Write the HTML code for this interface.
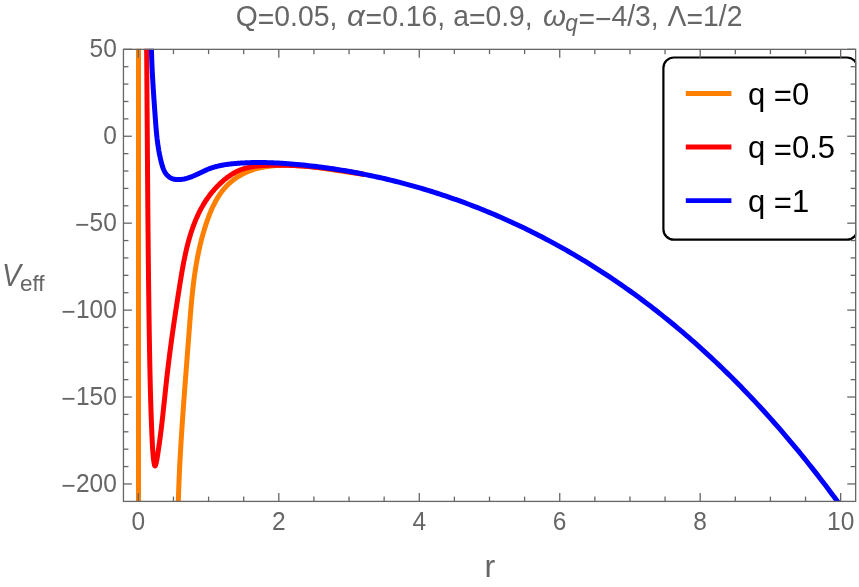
<!DOCTYPE html><html><head><meta charset="utf-8"><style>

html,body{margin:0;padding:0;background:#fff;}
body{width:859px;height:587px;position:relative;overflow:hidden;font-family:"Liberation Sans",sans-serif;}
.t{position:absolute;white-space:nowrap;color:#666;line-height:1;}
#txt{position:absolute;left:0;top:0;width:859px;height:587px;will-change:transform;transform:translateZ(0);}
.yt{transform-origin:100% 50%;transform:scaleY(1.03);font-size:24.5px;text-align:right;width:116.8px;left:0;}
.xt{transform-origin:50% 85%;transform:scaleY(1.03);font-size:24.5px;text-align:center;width:60px;}
.lg{position:absolute;white-space:nowrap;color:#000;font-size:31px;line-height:1;left:748px;}
sub.s{font-size:0.72em;vertical-align:baseline;position:relative;top:0.22em;line-height:0}
.e{position:relative;top:2.3px}
.e2{position:relative;top:1.9px}
.e3{position:relative;top:1.5px}
i.g{font-family:"Liberation Serif",serif;font-style:italic}

</style></head><body>
<svg width="859" height="587" viewBox="0 0 859 587" style="position:absolute;left:0;top:0">
<defs><clipPath id="cp"><rect x="122.85000000000001" y="48.75" width="733.4" height="453.24999999999994"/></clipPath></defs>
<g clip-path="url(#cp)" fill="none" stroke-linejoin="round" stroke-linecap="butt">
<path d="M138.5,40 L138.5,510" stroke="#ff8000" stroke-width="5.0"/>
<path d="M178.12,510.04 L178.14,509.08 L178.16,508.12 L178.18,507.17 L178.20,506.21 L178.23,505.26 L178.25,504.30 L178.28,503.34 L178.30,502.39 L178.33,501.43 L178.36,500.48 L178.39,499.52 L178.41,498.57 L178.44,497.61 L178.47,496.66 L178.50,495.70 L178.53,494.75 L178.56,493.79 L178.60,492.84 L178.63,491.88 L178.66,490.93 L178.70,489.97 L178.73,489.02 L178.77,488.06 L178.80,487.11 L178.84,486.15 L178.87,485.20 L178.91,484.25 L178.95,483.29 L178.99,482.34 L179.03,481.38 L179.06,480.43 L179.10,479.48 L179.14,478.52 L179.19,477.57 L179.23,476.62 L179.27,475.66 L179.31,474.71 L179.35,473.76 L179.40,472.80 L179.44,471.85 L179.49,470.90 L179.53,469.95 L179.58,468.99 L179.62,468.04 L179.67,467.09 L179.72,466.13 L179.76,465.18 L179.81,464.23 L179.86,463.28 L179.91,462.32 L179.96,461.37 L180.01,460.42 L180.06,459.47 L180.11,458.52 L180.16,457.56 L180.21,456.61 L180.26,455.66 L180.32,454.71 L180.37,453.76 L180.42,452.80 L180.48,451.85 L180.53,450.90 L180.58,449.95 L180.64,449.00 L180.69,448.05 L180.75,447.09 L180.81,446.14 L180.86,445.19 L180.92,444.24 L180.98,443.29 L181.03,442.34 L181.09,441.39 L181.15,440.44 L181.21,439.48 L181.27,438.53 L181.33,437.58 L181.39,436.63 L181.45,435.68 L181.51,434.73 L181.57,433.78 L181.63,432.83 L181.69,431.88 L181.75,430.93 L181.81,429.97 L181.88,429.02 L181.94,428.07 L182.00,427.12 L182.06,426.17 L182.13,425.22 L182.19,424.27 L182.26,423.32 L182.32,422.37 L182.38,421.42 L182.45,420.47 L182.51,419.52 L182.58,418.57 L182.65,417.62 L182.71,416.67 L182.78,415.72 L182.84,414.77 L182.91,413.82 L182.98,412.87 L183.04,411.92 L183.11,410.97 L183.18,410.02 L183.25,409.07 L183.32,408.11 L183.38,407.16 L183.45,406.21 L183.52,405.26 L183.59,404.31 L183.66,403.36 L183.73,402.41 L183.80,401.46 L183.87,400.51 L183.94,399.56 L184.01,398.61 L184.08,397.66 L184.15,396.71 L184.22,395.76 L184.29,394.81 L184.36,393.86 L184.43,392.91 L184.50,391.96 L184.57,391.01 L184.64,390.06 L184.72,389.11 L184.79,388.16 L184.86,387.21 L184.93,386.26 L185.00,385.31 L185.08,384.36 L185.15,383.41 L185.22,382.46 L185.29,381.51 L185.36,380.56 L185.44,379.61 L185.51,378.66 L185.58,377.71 L185.66,376.76 L185.73,375.81 L185.80,374.86 L185.87,373.91 L185.95,372.96 L186.02,372.01 L186.09,371.06 L186.17,370.11 L186.24,369.16 L186.31,368.20 L186.39,367.25 L186.46,366.30 L186.53,365.35 L186.61,364.40 L186.68,363.45 L186.75,362.50 L186.83,361.55 L186.90,360.60 L186.98,359.65 L187.05,358.70 L187.12,357.75 L187.20,356.80 L187.27,355.85 L187.34,354.89 L187.42,353.94 L187.49,352.99 L187.56,352.04 L187.64,351.09 L187.71,350.14 L187.78,349.19 L187.86,348.24 L187.93,347.29 L188.00,346.33 L188.08,345.38 L188.15,344.43 L188.22,343.48 L188.29,342.53 L188.37,341.58 L188.44,340.63 L188.51,339.67 L188.58,338.72 L188.66,337.77 L188.73,336.82 L188.80,335.87 L188.87,334.91 L188.95,333.96 L189.02,333.01 L189.09,332.06 L189.16,331.11 L189.23,330.15 L189.30,329.20 L189.38,328.25 L189.45,327.30 L189.52,326.35 L189.59,325.39 L189.66,324.44 L189.74,323.49 L189.81,322.54 L189.88,321.58 L189.96,320.63 L190.03,319.68 L190.10,318.73 L190.18,317.78 L190.25,316.82 L190.33,315.87 L190.40,314.92 L190.48,313.97 L190.56,313.02 L190.64,312.06 L190.72,311.11 L190.79,310.16 L190.88,309.21 L190.96,308.26 L191.04,307.31 L191.12,306.36 L191.20,305.41 L191.29,304.45 L191.37,303.50 L191.46,302.55 L191.55,301.60 L191.64,300.65 L191.73,299.70 L191.82,298.75 L191.91,297.80 L192.01,296.85 L192.10,295.90 L192.20,294.96 L192.29,294.01 L192.39,293.06 L192.49,292.11 L192.59,291.16 L192.70,290.21 L192.80,289.27 L192.91,288.32 L193.02,287.37 L193.13,286.42 L193.24,285.48 L193.35,284.53 L193.47,283.58 L193.58,282.64 L193.70,281.69 L193.82,280.75 L193.94,279.80 L194.07,278.86 L194.19,277.91 L194.32,276.97 L194.45,276.03 L194.59,275.08 L194.72,274.14 L194.86,273.20 L194.99,272.26 L195.14,271.31 L195.28,270.37 L195.42,269.43 L195.57,268.49 L195.72,267.55 L195.87,266.61 L196.03,265.67 L196.19,264.73 L196.35,263.79 L196.51,262.85 L196.68,261.92 L196.84,260.98 L197.01,260.04 L197.19,259.10 L197.36,258.17 L197.54,257.23 L197.72,256.30 L197.91,255.36 L198.09,254.43 L198.28,253.50 L198.48,252.56 L198.67,251.63 L198.87,250.70 L199.08,249.77 L199.28,248.83 L199.49,247.90 L199.70,246.97 L199.91,246.04 L200.13,245.11 L200.35,244.19 L200.58,243.26 L200.81,242.33 L201.04,241.40 L201.27,240.48 L201.51,239.55 L201.75,238.63 L202.00,237.70 L202.25,236.78 L202.50,235.86 L202.76,234.93 L203.02,234.01 L203.28,233.09 L203.55,232.17 L203.82,231.25 L204.09,230.33 L204.37,229.41 L204.65,228.49 L204.94,227.58 L205.23,226.66 L205.52,225.74 L205.82,224.83 L206.13,223.91 L206.43,223.00 L206.74,222.09 L207.06,221.17 L207.38,220.26 L207.70,219.35 L208.03,218.44 L208.36,217.54 L208.70,216.63 L209.04,215.73 L209.39,214.82 L209.75,213.92 L210.11,213.03 L210.47,212.13 L210.84,211.24 L211.22,210.36 L211.60,209.47 L211.99,208.59 L212.39,207.72 L212.79,206.84 L213.20,205.98 L213.62,205.11 L214.05,204.26 L214.48,203.40 L214.92,202.56 L215.37,201.72 L215.82,200.88 L216.29,200.05 L216.76,199.23 L217.24,198.41 L217.73,197.60 L218.22,196.80 L218.73,196.00 L219.25,195.21 L219.77,194.43 L220.30,193.66 L220.85,192.89 L221.40,192.14 L221.96,191.39 L222.54,190.65 L223.12,189.92 L223.72,189.20 L224.32,188.49 L224.94,187.79 L225.56,187.10 L226.20,186.42 L226.84,185.74 L227.50,185.08 L228.17,184.43 L228.85,183.79 L229.53,183.16 L230.23,182.54 L230.94,181.93 L231.65,181.33 L232.38,180.74 L233.11,180.17 L233.85,179.60 L234.60,179.04 L235.36,178.50 L236.13,177.97 L236.91,177.44 L237.69,176.93 L238.48,176.43 L239.28,175.94 L240.09,175.47 L240.90,175.00 L241.73,174.55 L242.55,174.11 L243.39,173.68 L244.23,173.26 L245.08,172.85 L245.94,172.46 L246.80,172.08 L247.66,171.71 L248.54,171.35 L249.41,171.00 L250.30,170.67 L251.19,170.35 L252.08,170.04 L252.98,169.74 L253.89,169.45 L254.80,169.18 L255.71,168.91 L256.63,168.66 L257.55,168.42 L258.48,168.18 L259.41,167.96 L260.34,167.75 L261.28,167.55 L262.22,167.35 L263.16,167.17 L264.11,167.00 L265.06,166.83 L266.01,166.68 L266.97,166.53 L267.93,166.40 L268.89,166.27 L269.85,166.15 L270.81,166.04 L271.78,165.93 L272.75,165.84 L273.72,165.75 L274.69,165.67 L275.66,165.60 L276.63,165.53 L277.60,165.47 L278.57,165.42 L279.55,165.38 L280.52,165.34 L281.50,165.31 L282.47,165.29 L283.44,165.27 L284.42,165.26 L285.39,165.25 L286.36,165.25 L287.33,165.25 L288.30,165.26 L289.27,165.28 L290.24,165.30 L291.21,165.32 L292.17,165.35 L293.14,165.39 L294.10,165.43 L295.07,165.47 L296.03,165.52 L296.99,165.57 L297.95,165.63 L298.91,165.69 L299.87,165.76 L300.83,165.82 L301.79,165.90 L302.74,165.98 L303.70,166.06 L304.65,166.14 L305.61,166.23 L306.56,166.32 L307.51,166.41 L308.46,166.51 L309.42,166.61 L310.37,166.72 L311.32,166.82 L312.26,166.93 L313.21,167.05 L314.16,167.16 L315.11,167.28 L316.05,167.40 L317.00,167.52 L317.95,167.64 L318.89,167.77 L319.84,167.90 L320.78,168.03 L321.72,168.16 L322.67,168.29 L323.61,168.42 L324.55,168.56 L325.49,168.70 L326.43,168.84 L327.37,168.98 L328.31,169.12 L329.25,169.26 L330.19,169.40 L331.13,169.55 L332.07,169.69 L333.01,169.83 L333.95,169.98 L334.88,170.12 L335.82,170.27 L336.76,170.42 L337.69,170.56 L338.63,170.71 L339.57,170.85 L340.50,171.00 L341.44,171.14 L342.38,171.29 L343.31,171.43 L344.25,171.57 L345.18,171.71 L346.12,171.86 L347.05,172.00 L347.99,172.13 L348.92,172.27 L349.86,172.41 L350.79,172.54 L351.73,172.68 L352.66,172.81 L353.60,172.94 L354.53,173.07 L355.47,173.20 L356.40,173.32 L357.34,173.44 L358.27,173.56 L359.21,173.68 L360.14,173.80 L361.08,173.91 L362.01,174.02 L362.95,174.13 L363.88,174.23 L364.82,174.33" stroke="#ff8000" stroke-width="5.0"/>
<path d="M146.48,30.01 L146.49,31.48 L146.51,32.95 L146.52,34.43 L146.53,35.90 L146.55,37.37 L146.56,38.85 L146.57,40.32 L146.58,41.79 L146.60,43.26 L146.61,44.74 L146.62,46.21 L146.63,47.68 L146.64,49.16 L146.66,50.63 L146.67,52.10 L146.68,53.58 L146.69,55.05 L146.70,56.52 L146.71,58.00 L146.73,59.47 L146.74,60.94 L146.75,62.42 L146.76,63.89 L146.77,65.36 L146.78,66.84 L146.79,68.31 L146.81,69.78 L146.82,71.26 L146.83,72.73 L146.84,74.20 L146.85,75.68 L146.86,77.15 L146.87,78.62 L146.88,80.10 L146.89,81.57 L146.91,83.05 L146.92,84.52 L146.93,85.99 L146.94,87.47 L146.95,88.94 L146.96,90.41 L146.97,91.89 L146.98,93.36 L146.99,94.84 L147.00,96.31 L147.01,97.78 L147.02,99.26 L147.03,100.73 L147.05,102.21 L147.06,103.68 L147.07,105.15 L147.08,106.63 L147.09,108.10 L147.10,109.58 L147.11,111.05 L147.12,112.52 L147.13,114.00 L147.14,115.47 L147.15,116.95 L147.16,118.42 L147.17,119.90 L147.18,121.37 L147.19,122.84 L147.20,124.32 L147.21,125.79 L147.22,127.27 L147.23,128.74 L147.24,130.21 L147.25,131.69 L147.27,133.16 L147.28,134.64 L147.29,136.11 L147.30,137.59 L147.31,139.06 L147.32,140.53 L147.33,142.01 L147.34,143.48 L147.35,144.96 L147.36,146.43 L147.37,147.91 L147.38,149.38 L147.39,150.86 L147.40,152.33 L147.41,153.80 L147.42,155.28 L147.43,156.75 L147.45,158.23 L147.46,159.70 L147.47,161.18 L147.48,162.65 L147.49,164.12 L147.50,165.60 L147.51,167.07 L147.52,168.55 L147.53,170.02 L147.54,171.50 L147.56,172.97 L147.57,174.45 L147.58,175.92 L147.59,177.39 L147.60,178.87 L147.61,180.34 L147.62,181.82 L147.63,183.29 L147.65,184.77 L147.66,186.24 L147.67,187.72 L147.68,189.19 L147.69,190.66 L147.70,192.14 L147.72,193.61 L147.73,195.09 L147.74,196.56 L147.75,198.04 L147.76,199.51 L147.78,200.99 L147.79,202.46 L147.80,203.93 L147.81,205.41 L147.82,206.88 L147.84,208.36 L147.85,209.83 L147.86,211.31 L147.88,212.78 L147.89,214.25 L147.90,215.73 L147.91,217.20 L147.93,218.68 L147.94,220.15 L147.95,221.63 L147.97,223.10 L147.98,224.57 L147.99,226.05 L148.01,227.52 L148.02,229.00 L148.03,230.47 L148.05,231.95 L148.06,233.42 L148.07,234.89 L148.09,236.37 L148.10,237.84 L148.12,239.32 L148.13,240.79 L148.15,242.26 L148.16,243.74 L148.17,245.21 L148.19,246.69 L148.20,248.16 L148.22,249.63 L148.23,251.11 L148.25,252.58 L148.26,254.06 L148.28,255.53 L148.30,257.00 L148.31,258.48 L148.33,259.95 L148.34,261.43 L148.36,262.90 L148.37,264.37 L148.39,265.85 L148.41,267.32 L148.42,268.79 L148.44,270.27 L148.46,271.74 L148.47,273.22 L148.49,274.69 L148.51,276.16 L148.52,277.64 L148.54,279.11 L148.56,280.58 L148.58,282.06 L148.59,283.53 L148.61,285.00 L148.63,286.48 L148.65,287.95 L148.66,289.42 L148.68,290.90 L148.70,292.37 L148.72,293.84 L148.74,295.32 L148.76,296.79 L148.78,298.26 L148.80,299.74 L148.82,301.21 L148.83,302.68 L148.85,304.16 L148.87,305.63 L148.89,307.10 L148.91,308.57 L148.93,310.05 L148.95,311.52 L148.98,312.99 L149.00,314.47 L149.02,315.94 L149.04,317.41 L149.06,318.88 L149.08,320.36 L149.10,321.83 L149.12,323.30 L149.15,324.78 L149.17,326.25 L149.19,327.72 L149.21,329.19 L149.23,330.67 L149.26,332.14 L149.28,333.61 L149.30,335.08 L149.33,336.55 L149.35,338.03 L149.37,339.50 L149.40,340.97 L149.42,342.44 L149.45,343.92 L149.47,345.39 L149.49,346.86 L149.52,348.33 L149.55,349.80 L149.57,351.28 L149.60,352.75 L149.62,354.22 L149.65,355.69 L149.68,357.16 L149.70,358.64 L149.73,360.11 L149.76,361.58 L149.79,363.05 L149.82,364.53 L149.85,366.00 L149.88,367.47 L149.91,368.94 L149.94,370.42 L149.97,371.89 L150.00,373.36 L150.04,374.83 L150.07,376.31 L150.10,377.78 L150.14,379.25 L150.17,380.73 L150.21,382.20 L150.24,383.67 L150.28,385.14 L150.31,386.62 L150.35,388.09 L150.39,389.56 L150.43,391.04 L150.47,392.51 L150.51,393.99 L150.55,395.46 L150.59,396.93 L150.63,398.41 L150.67,399.88 L150.72,401.36 L150.76,402.83 L150.81,404.31 L150.85,405.78 L150.90,407.26 L150.95,408.73 L151.00,410.21 L151.04,411.68 L151.09,413.16 L151.14,414.63 L151.20,416.11 L151.25,417.58 L151.30,419.06 L151.35,420.54 L151.41,422.01 L151.47,423.49 L151.52,424.97 L151.58,426.44 L151.64,427.92 L151.70,429.40 L151.76,430.88 L151.82,432.35 L151.88,433.83 L151.94,435.31 L152.01,436.79 L152.07,438.27 L152.14,439.75 L152.21,441.22 L152.28,442.70 L152.35,444.19 L152.43,445.67 L152.51,447.15 L152.60,448.64 L152.70,450.12 L152.81,451.62 L152.93,453.11 L153.06,454.61 L153.21,456.11 L153.37,457.62 L153.55,459.13 L153.74,460.64 L153.95,462.16 L154.19,463.60 L154.44,464.81 L154.72,465.64 L155.02,465.92 L155.35,465.59 L155.68,464.76 L156.02,463.56 L156.36,462.14 L156.67,460.60 L156.97,459.00 L157.26,457.36 L157.53,455.69 L157.78,454.02 L158.03,452.38 L158.27,450.77 L158.49,449.21 L158.72,447.70 L158.93,446.22 L159.14,444.77 L159.34,443.35 L159.54,441.94 L159.73,440.54 L159.92,439.15 L160.11,437.75 L160.29,436.35 L160.47,434.94 L160.66,433.53 L160.83,432.11 L161.01,430.69 L161.19,429.26 L161.36,427.82 L161.53,426.38 L161.70,424.94 L161.87,423.49 L162.04,422.04 L162.20,420.58 L162.37,419.12 L162.53,417.65 L162.70,416.19 L162.86,414.72 L163.02,413.24 L163.18,411.77 L163.34,410.29 L163.50,408.81 L163.66,407.33 L163.81,405.84 L163.97,404.36 L164.13,402.87 L164.29,401.38 L164.44,399.89 L164.60,398.40 L164.76,396.91 L164.92,395.42 L165.07,393.92 L165.23,392.43 L165.39,390.94 L165.55,389.45 L165.71,387.96 L165.87,386.47 L166.03,384.98 L166.19,383.49 L166.35,382.01 L166.52,380.52 L166.68,379.04 L166.85,377.56 L167.01,376.08 L167.18,374.60 L167.35,373.13 L167.52,371.66 L167.69,370.19 L167.87,368.72 L168.04,367.25 L168.22,365.79 L168.39,364.33 L168.57,362.87 L168.75,361.41 L168.93,359.95 L169.12,358.50 L169.30,357.05 L169.48,355.59 L169.67,354.14 L169.86,352.70 L170.04,351.25 L170.23,349.80 L170.42,348.35 L170.62,346.91 L170.81,345.47 L171.00,344.02 L171.20,342.58 L171.39,341.14 L171.59,339.70 L171.79,338.26 L171.99,336.82 L172.19,335.38 L172.39,333.94 L172.59,332.50 L172.80,331.06 L173.00,329.63 L173.21,328.19 L173.42,326.75 L173.62,325.31 L173.83,323.87 L174.04,322.43 L174.25,320.99 L174.47,319.55 L174.68,318.11 L174.89,316.67 L175.11,315.23 L175.32,313.79 L175.54,312.35 L175.76,310.90 L175.98,309.46 L176.20,308.01 L176.42,306.57 L176.64,305.12 L176.86,303.67 L177.08,302.22 L177.31,300.77 L177.53,299.32 L177.76,297.86 L177.99,296.41 L178.21,294.95 L178.44,293.49 L178.67,292.03 L178.90,290.57 L179.13,289.10 L179.37,287.64 L179.60,286.17 L179.83,284.70 L180.07,283.22 L180.30,281.75 L180.54,280.28 L180.78,278.80 L181.03,277.32 L181.27,275.85 L181.52,274.37 L181.77,272.89 L182.03,271.41 L182.29,269.93 L182.55,268.46 L182.82,266.98 L183.09,265.50 L183.37,264.03 L183.65,262.55 L183.94,261.08 L184.23,259.61 L184.53,258.14 L184.83,256.67 L185.14,255.21 L185.46,253.75 L185.79,252.29 L186.12,250.83 L186.46,249.37 L186.80,247.92 L187.16,246.47 L187.52,245.03 L187.89,243.59 L188.27,242.15 L188.66,240.72 L189.06,239.29 L189.47,237.87 L189.89,236.45 L190.31,235.04 L190.75,233.63 L191.20,232.23 L191.66,230.83 L192.13,229.44 L192.61,228.05 L193.11,226.67 L193.61,225.30 L194.13,223.94 L194.66,222.58 L195.20,221.22 L195.76,219.88 L196.33,218.54 L196.91,217.21 L197.51,215.89 L198.12,214.57 L198.74,213.27 L199.38,211.97 L200.04,210.68 L200.70,209.40 L201.39,208.13 L202.09,206.87 L202.80,205.62 L203.54,204.37 L204.28,203.14 L205.05,201.92 L205.83,200.71 L206.63,199.50 L207.45,198.31 L208.28,197.13 L209.13,195.96 L210.00,194.80 L210.89,193.66 L211.80,192.52 L212.73,191.40 L213.67,190.29 L214.64,189.19 L215.62,188.10 L216.63,187.03 L217.65,185.97 L218.70,184.92 L219.77,183.88 L220.86,182.86 L221.96,181.85 L223.09,180.86 L224.25,179.89 L225.42,178.93 L226.61,178.00 L227.81,177.09 L229.04,176.21 L230.28,175.36 L231.54,174.53 L232.82,173.74 L234.12,172.98 L235.42,172.26 L236.75,171.58 L238.08,170.93 L239.43,170.33 L240.80,169.78 L242.18,169.27 L243.56,168.79 L244.96,168.36 L246.37,167.97 L247.79,167.61 L249.22,167.29 L250.66,167.00 L252.10,166.74 L253.55,166.50 L255.01,166.30 L256.47,166.12 L257.94,165.96 L259.41,165.82 L260.88,165.70 L262.36,165.60 L263.84,165.52 L265.32,165.44 L266.80,165.38 L268.28,165.33 L269.76,165.29 L271.24,165.25 L272.72,165.22 L274.20,165.20 L275.67,165.18 L277.15,165.17 L278.62,165.17 L280.10,165.18 L281.57,165.19 L283.04,165.21 L284.52,165.23 L285.99,165.26 L287.46,165.30 L288.93,165.35 L290.40,165.40 L291.87,165.45 L293.34,165.52 L294.80,165.59 L296.27,165.66 L297.74,165.74 L299.20,165.83 L300.67,165.92 L302.14,166.02 L303.60,166.12 L305.07,166.23 L306.53,166.35 L308.00,166.47 L309.46,166.60 L310.93,166.73 L312.39,166.86 L313.85,167.01 L315.32,167.15 L316.78,167.31 L318.25,167.46 L319.71,167.63 L321.17,167.79 L322.64,167.96 L324.10,168.14 L325.56,168.32 L327.03,168.51 L328.49,168.70 L329.96,168.89 L331.42,169.09 L332.89,169.29 L334.35,169.50 L335.81,169.71 L337.28,169.93 L338.74,170.15 L340.20,170.37 L341.67,170.59 L343.13,170.82 L344.59,171.06 L346.05,171.29 L347.51,171.53 L348.97,171.77 L350.42,172.02 L351.88,172.27 L353.33,172.52 L354.79,172.77 L356.24,173.03 L357.69,173.28 L359.13,173.54 L360.58,173.80 L362.02,174.07 L363.46,174.33 L364.90,174.60" stroke="#ff0000" stroke-width="5.0"/>
<path d="M151.38,30.00 L151.37,30.79 L151.37,31.58 L151.36,32.36 L151.35,33.15 L151.35,33.94 L151.34,34.73 L151.34,35.52 L151.34,36.30 L151.34,37.09 L151.34,37.88 L151.34,38.67 L151.34,39.46 L151.34,40.25 L151.35,41.03 L151.36,41.82 L151.36,42.61 L151.37,43.40 L151.38,44.19 L151.39,44.98 L151.40,45.77 L151.41,46.55 L151.43,47.34 L151.44,48.13 L151.46,48.92 L151.47,49.71 L151.49,50.50 L151.51,51.29 L151.53,52.08 L151.55,52.87 L151.57,53.65 L151.59,54.44 L151.62,55.23 L151.64,56.02 L151.66,56.81 L151.69,57.60 L151.72,58.39 L151.74,59.18 L151.77,59.97 L151.80,60.75 L151.83,61.54 L151.86,62.33 L151.89,63.12 L151.92,63.91 L151.96,64.70 L151.99,65.49 L152.02,66.28 L152.06,67.07 L152.09,67.85 L152.13,68.64 L152.17,69.43 L152.21,70.22 L152.24,71.01 L152.28,71.80 L152.32,72.59 L152.36,73.37 L152.40,74.16 L152.45,74.95 L152.49,75.74 L152.53,76.53 L152.57,77.32 L152.62,78.11 L152.66,78.89 L152.71,79.68 L152.75,80.47 L152.80,81.26 L152.84,82.05 L152.89,82.83 L152.94,83.62 L152.99,84.41 L153.03,85.20 L153.08,85.98 L153.13,86.77 L153.18,87.56 L153.23,88.35 L153.28,89.13 L153.33,89.92 L153.38,90.71 L153.44,91.50 L153.49,92.28 L153.54,93.07 L153.59,93.86 L153.64,94.64 L153.70,95.43 L153.75,96.22 L153.80,97.00 L153.86,97.79 L153.91,98.58 L153.97,99.36 L154.02,100.15 L154.08,100.93 L154.13,101.72 L154.19,102.51 L154.24,103.29 L154.30,104.08 L154.35,104.86 L154.41,105.65 L154.46,106.43 L154.52,107.22 L154.58,108.00 L154.63,108.79 L154.69,109.57 L154.75,110.36 L154.80,111.14 L154.86,111.93 L154.92,112.71 L154.97,113.49 L155.03,114.28 L155.09,115.06 L155.14,115.84 L155.20,116.63 L155.26,117.41 L155.31,118.19 L155.37,118.98 L155.43,119.76 L155.48,120.54 L155.54,121.33 L155.60,122.11 L155.66,122.89 L155.72,123.67 L155.78,124.46 L155.84,125.24 L155.90,126.02 L155.96,126.80 L156.03,127.58 L156.09,128.37 L156.16,129.15 L156.23,129.93 L156.30,130.71 L156.37,131.50 L156.44,132.28 L156.52,133.06 L156.59,133.84 L156.67,134.63 L156.75,135.41 L156.83,136.19 L156.92,136.98 L157.01,137.76 L157.09,138.54 L157.19,139.33 L157.28,140.11 L157.38,140.89 L157.47,141.68 L157.58,142.46 L157.68,143.25 L157.79,144.03 L157.90,144.82 L158.01,145.60 L158.13,146.39 L158.25,147.17 L158.37,147.96 L158.50,148.74 L158.63,149.53 L158.77,150.32 L158.90,151.10 L159.05,151.89 L159.19,152.68 L159.34,153.47 L159.50,154.26 L159.65,155.05 L159.82,155.84 L159.98,156.62 L160.15,157.41 L160.33,158.21 L160.51,159.00 L160.69,159.79 L160.88,160.58 L161.08,161.37 L161.28,162.17 L161.48,162.96 L161.69,163.75 L161.91,164.54 L162.14,165.32 L162.37,166.10 L162.62,166.87 L162.88,167.64 L163.16,168.39 L163.45,169.13 L163.76,169.85 L164.08,170.56 L164.43,171.25 L164.79,171.92 L165.18,172.58 L165.58,173.21 L166.02,173.81 L166.47,174.39 L166.95,174.95 L167.45,175.48 L167.97,175.98 L168.51,176.45 L169.08,176.89 L169.66,177.30 L170.26,177.67 L170.89,178.01 L171.53,178.32 L172.19,178.59 L172.87,178.83 L173.56,179.03 L174.27,179.20 L174.99,179.34 L175.73,179.45 L176.48,179.53 L177.23,179.58 L178.00,179.61 L178.77,179.60 L179.55,179.58 L180.34,179.52 L181.13,179.45 L181.92,179.35 L182.72,179.23 L183.51,179.10 L184.30,178.94 L185.09,178.76 L185.88,178.57 L186.66,178.37 L187.44,178.15 L188.21,177.91 L188.98,177.66 L189.75,177.40 L190.51,177.13 L191.26,176.85 L192.01,176.56 L192.76,176.25 L193.50,175.94 L194.24,175.63 L194.98,175.30 L195.72,174.98 L196.45,174.64 L197.19,174.30 L197.92,173.96 L198.64,173.62 L199.37,173.27 L200.10,172.92 L200.82,172.58 L201.55,172.23 L202.27,171.88 L203.00,171.54 L203.72,171.20 L204.45,170.86 L205.18,170.53 L205.90,170.20 L206.63,169.88 L207.36,169.57 L208.10,169.27 L208.83,168.97 L209.57,168.68 L210.31,168.40 L211.05,168.14 L211.79,167.88 L212.54,167.63 L213.29,167.39 L214.04,167.16 L214.79,166.94 L215.55,166.73 L216.30,166.53 L217.06,166.33 L217.82,166.14 L218.59,165.96 L219.35,165.79 L220.12,165.62 L220.89,165.47 L221.65,165.31 L222.43,165.17 L223.20,165.03 L223.97,164.90 L224.75,164.77 L225.52,164.65 L226.30,164.53 L227.08,164.42 L227.85,164.32 L228.63,164.21 L229.41,164.12 L230.20,164.02 L230.98,163.94 L231.76,163.85 L232.54,163.77 L233.33,163.69 L234.11,163.62 L234.89,163.55 L235.68,163.48 L236.46,163.41 L237.25,163.35 L238.03,163.29 L238.82,163.23 L239.60,163.17 L240.39,163.12 L241.17,163.06 L241.96,163.02 L242.75,162.97 L243.53,162.92 L244.32,162.88 L245.10,162.84 L245.89,162.81 L246.68,162.77 L247.47,162.74 L248.25,162.71 L249.04,162.68 L249.83,162.66 L250.61,162.63 L251.40,162.61 L252.19,162.59 L252.98,162.58 L253.77,162.56 L254.55,162.55 L255.34,162.54 L256.13,162.53 L256.92,162.53 L257.71,162.52 L258.50,162.52 L259.28,162.52 L260.07,162.52 L260.86,162.53 L261.65,162.53 L262.44,162.54 L263.23,162.55 L264.02,162.56 L264.81,162.58 L265.60,162.59 L266.38,162.61 L267.17,162.63 L267.96,162.65 L268.75,162.67 L269.54,162.70 L270.33,162.72 L271.12,162.75 L271.91,162.78 L272.70,162.81 L273.49,162.85 L274.28,162.88 L275.07,162.92 L275.86,162.96 L276.64,163.00 L277.43,163.04 L278.22,163.08 L279.01,163.12 L279.80,163.17 L280.59,163.22 L281.38,163.27 L282.17,163.32 L282.96,163.37 L283.74,163.42 L284.53,163.48 L285.32,163.53 L286.11,163.59 L286.90,163.65 L287.69,163.71 L288.47,163.77 L289.26,163.83 L290.05,163.90 L290.84,163.96 L291.63,164.03 L292.41,164.09 L293.20,164.16 L293.99,164.23 L294.78,164.30 L295.56,164.38 L296.35,164.45 L297.14,164.52 L297.92,164.60 L298.71,164.68 L299.50,164.75 L300.28,164.80 L303.02,165.07 L305.76,165.35 L308.49,165.65 L311.23,165.95 L313.97,166.27 L316.71,166.60 L319.44,166.95 L322.18,167.30 L324.92,167.67 L327.66,168.05 L330.39,168.44 L333.13,168.84 L335.87,169.26 L338.60,169.69 L341.34,170.13 L344.08,170.58 L346.82,171.04 L349.55,171.52 L352.29,172.01 L355.03,172.51 L357.77,173.02 L360.50,173.54 L363.24,174.08 L365.98,174.63 L368.71,175.19 L371.45,175.76 L374.19,176.35 L376.93,176.94 L379.66,177.55 L382.40,178.18 L385.14,178.81 L387.88,179.46 L390.61,180.12 L393.35,180.79 L396.09,181.47 L398.82,182.17 L401.56,182.88 L404.30,183.60 L407.04,184.33 L409.77,185.08 L412.51,185.84 L415.25,186.61 L417.99,187.40 L420.72,188.19 L423.46,189.00 L426.20,189.83 L428.93,190.66 L431.67,191.51 L434.41,192.37 L437.15,193.25 L439.88,194.13 L442.62,195.03 L445.36,195.95 L448.10,196.87 L450.83,197.81 L453.57,198.77 L456.31,199.73 L459.04,200.71 L461.78,201.71 L464.52,202.71 L467.26,203.73 L469.99,204.77 L472.73,205.81 L475.47,206.87 L478.21,207.95 L480.94,209.04 L483.68,210.14 L486.42,211.25 L489.15,212.38 L491.89,213.53 L494.63,214.68 L497.37,215.86 L500.10,217.04 L502.84,218.24 L505.58,219.46 L508.32,220.69 L511.05,221.93 L513.79,223.19 L516.53,224.46 L519.26,225.75 L522.00,227.05 L524.74,228.36 L527.48,229.70 L530.21,231.04 L532.95,232.40 L535.69,233.78 L538.43,235.17 L541.16,236.58 L543.90,238.00 L546.64,239.44 L549.37,240.89 L552.11,242.36 L554.85,243.84 L557.59,245.34 L560.32,246.86 L563.06,248.39 L565.80,249.94 L568.54,251.50 L571.27,253.08 L574.01,254.67 L576.75,256.29 L579.48,257.92 L582.22,259.56 L584.96,261.22 L587.70,262.90 L590.43,264.60 L593.17,266.31 L595.91,268.04 L598.65,269.78 L601.38,271.55 L604.12,273.33 L606.86,275.12 L609.59,276.94 L612.33,278.77 L615.07,280.62 L617.81,282.49 L620.54,284.38 L623.28,286.28 L626.02,288.20 L628.76,290.14 L631.49,292.10 L634.23,294.08 L636.97,296.08 L639.70,298.09 L642.44,300.12 L645.18,302.18 L647.92,304.25 L650.65,306.34 L653.39,308.45 L656.13,310.58 L658.87,312.72 L661.60,314.89 L664.34,317.08 L667.08,319.29 L669.81,321.51 L672.55,323.76 L675.29,326.03 L678.03,328.32 L680.76,330.63 L683.50,332.95 L686.24,335.30 L688.98,337.67 L691.71,340.07 L694.45,342.48 L697.19,344.91 L699.92,347.37 L702.66,349.84 L705.40,352.34 L708.14,354.86 L710.87,357.40 L713.61,359.97 L716.35,362.55 L719.09,365.16 L721.82,367.79 L724.56,370.44 L727.30,373.12 L730.03,375.82 L732.77,378.54 L735.51,381.28 L738.25,384.05 L740.98,386.84 L743.72,389.66 L746.46,392.50 L749.20,395.36 L751.93,398.25 L754.67,401.16 L757.41,404.09 L760.14,407.05 L762.88,410.04 L765.62,413.05 L768.36,416.08 L771.09,419.14 L773.83,422.23 L776.57,425.34 L779.31,428.47 L782.04,431.63 L784.78,434.82 L787.52,438.03 L790.25,441.27 L792.99,444.54 L795.73,447.83 L798.47,451.15 L801.20,454.50 L803.94,457.87 L806.68,461.27 L809.42,464.70 L812.15,468.16 L814.89,471.64 L817.63,475.15 L820.36,478.69 L823.10,482.26 L825.84,485.85 L828.58,489.48 L831.31,493.13 L834.05,496.82 L836.79,500.53 L839.53,504.27 L842.26,508.04 L845.00,511.84" stroke="#0000ff" stroke-width="5.0"/>
<rect x="663.4" y="57.5" width="194" height="182.2" rx="10.5" ry="10.5" fill="#fff" stroke="#000" stroke-width="2.2"/>
<path d="M685.8,93.5 L731.4,93.5" stroke="#ff8000" stroke-width="4.8"/>
<path d="M685.8,147.0 L731.4,147.0" stroke="#ff0000" stroke-width="4.8"/>
<path d="M685.8,200.6 L731.4,200.6" stroke="#0000ff" stroke-width="4.8"/>
</g>
<g stroke="#666666" stroke-width="1.3" fill="none">
<rect x="123.45" y="49.35" width="732.1999999999999" height="452.04999999999995"/>
<path d="M138.35,501.4 v-8.3"/>
<path d="M138.35,49.35 v8.3"/>
<path d="M173.47,501.4 v-4.8"/>
<path d="M173.47,49.35 v4.8"/>
<path d="M208.58,501.4 v-4.8"/>
<path d="M208.58,49.35 v4.8"/>
<path d="M243.69,501.4 v-4.8"/>
<path d="M243.69,49.35 v4.8"/>
<path d="M278.81,501.4 v-8.3"/>
<path d="M278.81,49.35 v8.3"/>
<path d="M313.93,501.4 v-4.8"/>
<path d="M313.93,49.35 v4.8"/>
<path d="M349.04,501.4 v-4.8"/>
<path d="M349.04,49.35 v4.8"/>
<path d="M384.15,501.4 v-4.8"/>
<path d="M384.15,49.35 v4.8"/>
<path d="M419.27,501.4 v-8.3"/>
<path d="M419.27,49.35 v8.3"/>
<path d="M454.38,501.4 v-4.8"/>
<path d="M454.38,49.35 v4.8"/>
<path d="M489.50,501.4 v-4.8"/>
<path d="M489.50,49.35 v4.8"/>
<path d="M524.62,501.4 v-4.8"/>
<path d="M524.62,49.35 v4.8"/>
<path d="M559.73,501.4 v-8.3"/>
<path d="M559.73,49.35 v8.3"/>
<path d="M594.85,501.4 v-4.8"/>
<path d="M594.85,49.35 v4.8"/>
<path d="M629.96,501.4 v-4.8"/>
<path d="M629.96,49.35 v4.8"/>
<path d="M665.08,501.4 v-4.8"/>
<path d="M665.08,49.35 v4.8"/>
<path d="M700.19,501.4 v-8.3"/>
<path d="M700.19,49.35 v8.3"/>
<path d="M735.31,501.4 v-4.8"/>
<path d="M735.31,49.35 v4.8"/>
<path d="M770.42,501.4 v-4.8"/>
<path d="M770.42,49.35 v4.8"/>
<path d="M805.54,501.4 v-4.8"/>
<path d="M805.54,49.35 v4.8"/>
<path d="M840.65,501.4 v-8.3"/>
<path d="M840.65,49.35 v8.3"/>
<path d="M123.45,483.95 h8.4"/>
<path d="M855.65,483.95 h-8.4"/>
<path d="M123.45,466.56 h5.0"/>
<path d="M855.65,466.56 h-5.0"/>
<path d="M123.45,449.18 h5.0"/>
<path d="M855.65,449.18 h-5.0"/>
<path d="M123.45,431.80 h5.0"/>
<path d="M855.65,431.80 h-5.0"/>
<path d="M123.45,414.41 h5.0"/>
<path d="M855.65,414.41 h-5.0"/>
<path d="M123.45,397.02 h8.4"/>
<path d="M855.65,397.02 h-8.4"/>
<path d="M123.45,379.64 h5.0"/>
<path d="M855.65,379.64 h-5.0"/>
<path d="M123.45,362.25 h5.0"/>
<path d="M855.65,362.25 h-5.0"/>
<path d="M123.45,344.87 h5.0"/>
<path d="M855.65,344.87 h-5.0"/>
<path d="M123.45,327.49 h5.0"/>
<path d="M855.65,327.49 h-5.0"/>
<path d="M123.45,310.10 h8.4"/>
<path d="M855.65,310.10 h-8.4"/>
<path d="M123.45,292.72 h5.0"/>
<path d="M855.65,292.72 h-5.0"/>
<path d="M123.45,275.33 h5.0"/>
<path d="M855.65,275.33 h-5.0"/>
<path d="M123.45,257.94 h5.0"/>
<path d="M855.65,257.94 h-5.0"/>
<path d="M123.45,240.56 h5.0"/>
<path d="M855.65,240.56 h-5.0"/>
<path d="M123.45,223.18 h8.4"/>
<path d="M855.65,223.18 h-8.4"/>
<path d="M123.45,205.79 h5.0"/>
<path d="M855.65,205.79 h-5.0"/>
<path d="M123.45,188.41 h5.0"/>
<path d="M855.65,188.41 h-5.0"/>
<path d="M123.45,171.02 h5.0"/>
<path d="M855.65,171.02 h-5.0"/>
<path d="M123.45,153.63 h5.0"/>
<path d="M855.65,153.63 h-5.0"/>
<path d="M123.45,136.25 h8.4"/>
<path d="M855.65,136.25 h-8.4"/>
<path d="M123.45,118.87 h5.0"/>
<path d="M855.65,118.87 h-5.0"/>
<path d="M123.45,101.48 h5.0"/>
<path d="M855.65,101.48 h-5.0"/>
<path d="M123.45,84.09 h5.0"/>
<path d="M855.65,84.09 h-5.0"/>
<path d="M123.45,66.71 h5.0"/>
<path d="M855.65,66.71 h-5.0"/>
<path d="M123.45,49.33 h8.4"/>
<path d="M855.65,49.33 h-8.4"/>
</g>
</svg>
<div id="txt">
<div class="t" style="left:235.8px;top:0.9px;font-size:28.3px;transform-origin:0 0;transform:scaleY(1.06);">Q<span class="e">=</span>0.05,</div>
<div class="t" style="left:347.0px;top:0.9px;font-size:28.3px;transform-origin:0 0;transform:scaleY(1.06);font-style:italic;transform:scale(1.1,1.06)">α</div>
<div class="t" style="left:365.6px;top:0.9px;font-size:28.3px;transform-origin:0 0;transform:scaleY(1.06);"><span class="e">=</span>0.16,</div>
<div class="t" style="left:453.2px;top:0.9px;font-size:28.3px;transform-origin:0 0;transform:scaleY(1.06);">a<span class="e">=</span>0.9,</div>
<div class="t" style="left:542.6px;top:0.9px;font-size:28.3px;transform-origin:0 0;transform:scaleY(1.06);font-style:italic;transform:scale(1.04,1.06)">ω</div>
<div class="t" style="left:565.2px;top:0.9px;font-size:28.3px;transform-origin:0 0;transform:scaleY(1.06);font-style:italic;font-size:22.5px;top:12.0px">q</div>
<div class="t" style="left:578.4px;top:0.9px;font-size:28.3px;transform-origin:0 0;transform:scaleY(1.06);"><span class="e">=</span><span class="e">−</span>4/3,</div>
<div class="t" style="left:667.6px;top:0.9px;font-size:28.3px;transform-origin:0 0;transform:scaleY(1.06);">Λ<span class="e">=</span>1/2</div>
<div class="t yt" style="top:37.1px">50</div>
<div class="t yt" style="top:124.0px">0</div>
<div class="t yt" style="top:211.0px"><span class="e2">−</span>50</div>
<div class="t yt" style="top:297.9px"><span class="e2">−</span>100</div>
<div class="t yt" style="top:384.8px"><span class="e2">−</span>150</div>
<div class="t yt" style="top:471.8px"><span class="e2">−</span>200</div>
<div class="t xt" style="left:108.3px;top:509.6px">0</div>
<div class="t xt" style="left:248.8px;top:509.6px">2</div>
<div class="t xt" style="left:389.3px;top:509.6px">4</div>
<div class="t xt" style="left:529.7px;top:509.6px">6</div>
<div class="t xt" style="left:670.2px;top:509.6px">8</div>
<div class="t xt" style="left:810.7px;top:509.6px">10</div>
<div class="t" style="left:2.2px;top:259.5px;font-size:31.5px;font-style:italic;transform-origin:0 50%;transform:scaleX(0.9)">V</div>
<div class="t" style="left:20.0px;top:273.2px;font-size:22.5px;">eff</div>
<div class="t" id="xlab" style="left:484.5px;top:550.4px;font-size:32px;">r</div>
<div class="lg" style="top:78.6px">q <span class="e3">=</span>0</div>
<div class="lg" style="top:132.1px">q <span class="e3">=</span>0.5</div>
<div class="lg" style="top:185.7px">q <span class="e3">=</span>1</div>
</div>
</body></html>
